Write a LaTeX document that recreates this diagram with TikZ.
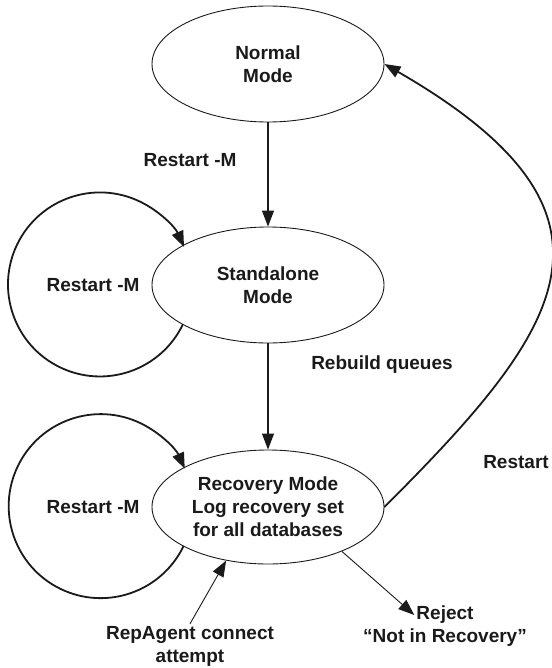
\documentclass[tikz,border=0pt]{standalone}
\usepackage{fontspec}
\setmainfont{Liberation Sans}
\usepackage{tikz}
\usetikzlibrary{arrows.meta,shapes.geometric}
\definecolor{ink}{HTML}{1A1A1A}
\newcommand{\labfont}{\fontsize{19}{23}\selectfont\bfseries}
\tikzset{
  state/.style={ellipse, draw=ink, line width=0.9pt, minimum width=232pt, minimum height=116pt, inner sep=0pt, align=center, text=ink, font=\labfont},
  flow/.style={draw=ink, line width=1.1pt, -{Triangle[length=16pt,width=12pt]}},
  loopy/.style={draw=ink, line width=1.8pt, line cap=round, -{Triangle[length=16pt,width=12pt]}},
  lab/.style={text=ink, font=\labfont, inner sep=2pt, align=center},
}

\begin{document}
\begin{tikzpicture}[x=1pt,y=1pt]
  \useasboundingbox (0,0) rectangle (551,-668);
  \node[state] (norm) at (268,-64) {Normal\\Mode};
  \node[state] (sa) at (268,-285) {Standalone\\Mode};
  \node[state, minimum height=114pt] (rec) at (268,-507) {Recovery Mode\\Log recovery set\\for all databases};

  \node[lab] (lnm) at (190,-160) {Restart -M};
  \node[lab] (lsa) at (93,-285) {Restart -M};
  \node[lab] (lrec) at (93,-507) {Restart -M};
  \node[lab] (lrb) at (382,-365) {Rebuild queues};
  \node[lab] (lrs) at (516,-462) {Restart};
  \node[lab] (rep) at (190,-646) {RepAgent connect\\attempt};
  \node[lab] (rej) at (445,-615) {Reject};
  \node[lab] (rejnote) at (445,-638) {“Not in Recovery”};

  \draw[flow] (norm.south) -- (sa.north);
  \draw[flow] (sa.south) -- (rec.north);
  \draw[loopy] (sa.205) arc[start angle=-26, end angle=-336, radius=92];
  \draw[loopy] (rec.205) arc[start angle=-26, end angle=-336, radius=92];
  \draw[loopy] (rec.east) .. controls +(45:252) and +(-30:302) .. (norm.east);
  \draw[flow, line width=0.9pt] (rep.north) -- (rec.232);
  \draw[flow, line width=0.9pt] (rec.-31) -- (rej.west);
\end{tikzpicture}
\end{document}
